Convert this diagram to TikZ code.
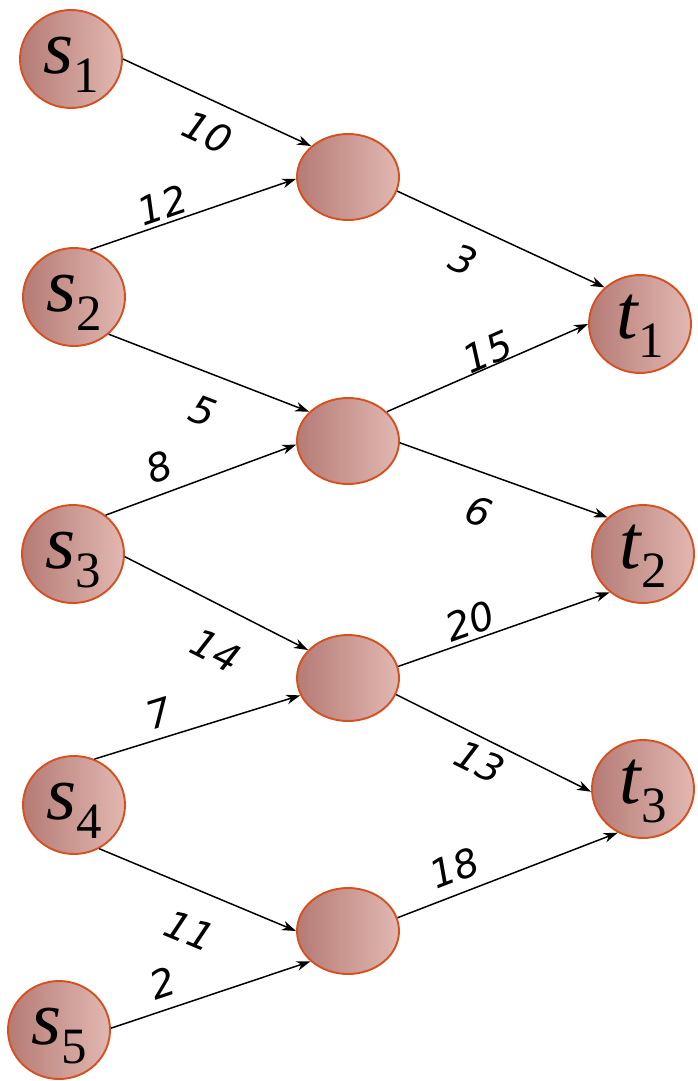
\documentclass[tikz,border=0pt]{standalone}
\usepackage{fontspec}
\newfontfamily\namefont{Liberation Serif}
\newfontfamily\weightfont{DejaVu Sans}
\usetikzlibrary{arrows.meta,shapes.geometric}
\definecolor{nodefill}{RGB}{181,123,117}
\definecolor{nodelight}{RGB}{226,184,178}
\definecolor{nodeedge}{RGB}{214,80,32}
\newcommand{\vname}[2]{{\namefont\itshape #1}\raisebox{-0.25em}{\namefont\fontsize{29}{29}\selectfont #2}}

\begin{document}
\begin{tikzpicture}[x=0.02cm, y=-0.02cm, >={Stealth[length=8pt,width=5.5pt,inset=2.5pt]},
  vertex/.style={ellipse, draw=nodeedge, line width=1.1pt, left color=nodefill, middle color=nodefill!75!nodelight, right color=nodelight, inner sep=0pt, minimum width=2.04cm, minimum height=1.96cm, text height=22pt, text depth=6pt, font=\fontsize{44}{44}\selectfont},
  hub/.style={vertex, minimum height=1.72cm},
  flow/.style={->, line width=0.85pt},
  weight/.style={font=\weightfont\itshape\fontsize{22}{22}\selectfont, sloped, inner sep=0pt}]

\useasboundingbox (0,0) rectangle (697,1081);

\node[vertex] (s1) at (71,59) {\vname{s}{1}};
\node[vertex] (s2) at (74,297) {\vname{s}{2}};
\node[vertex] (s3) at (73,554) {\vname{s}{3}};
\node[vertex] (s4) at (74,805) {\vname{s}{4}};
\node[vertex] (s5) at (59,1030) {\vname{s}{5}};

\node[hub] (m1) at (348,177) {};
\node[hub] (m2) at (348,441) {};
\node[hub] (m3) at (348,678) {};
\node[hub] (m4) at (348,931) {};

\node[vertex] (t1) at (640,324) {\vname{t}{1}};
\node[vertex] (t2) at (643,554) {\vname{t}{2}};
\node[vertex] (t3) at (643,789) {\vname{t}{3}};

\draw[flow] (s1.0) -- node[weight, pos=0.52, yshift=-0.62cm] {10} (m1.140);
\draw[flow] (s2.71) -- node[weight, pos=0.38, yshift=0.38cm] {12} (m1.182);
\draw[flow] (m1.-16) -- node[weight, pos=0.39, yshift=-0.70cm] {3} (t1.134);
\draw[flow] (s2.-47) -- node[weight, pos=0.54, yshift=-0.76cm] {5} (m2.143);
\draw[flow] (s3.50) -- node[weight, pos=0.33, yshift=0.52cm] {8} (m2.184);
\draw[flow] (m2.37) -- node[weight, pos=0.53, yshift=0.29cm] {15} (t1.180);
\draw[flow] (m2.-2) -- node[weight, pos=0.44, yshift=-0.75cm] {6} (t2.134);
\draw[flow] (s3.-3) -- node[weight, pos=0.60, yshift=-0.85cm] {14} (m3.145);
\draw[flow] (m3.13) -- node[weight, pos=0.37, yshift=0.37cm] {20} (t2.229);
\draw[flow] (m3.-19) -- node[weight, pos=0.48, yshift=-0.46cm] {13} (t3.183);
\draw[flow] (s4.66) -- node[weight, pos=0.35, yshift=0.48cm] {7} (m3.200);
\draw[flow] (s4.-60) -- node[weight, pos=0.54, yshift=-0.81cm] {11} (m4.180);
\draw[flow] (m4.15) -- node[weight, pos=0.30, yshift=0.52cm] {18} (t3.240);
\draw[flow] (s5.2) -- node[weight, pos=0.30, yshift=0.53cm] {2} (m4.219);

\end{tikzpicture}
\end{document}
